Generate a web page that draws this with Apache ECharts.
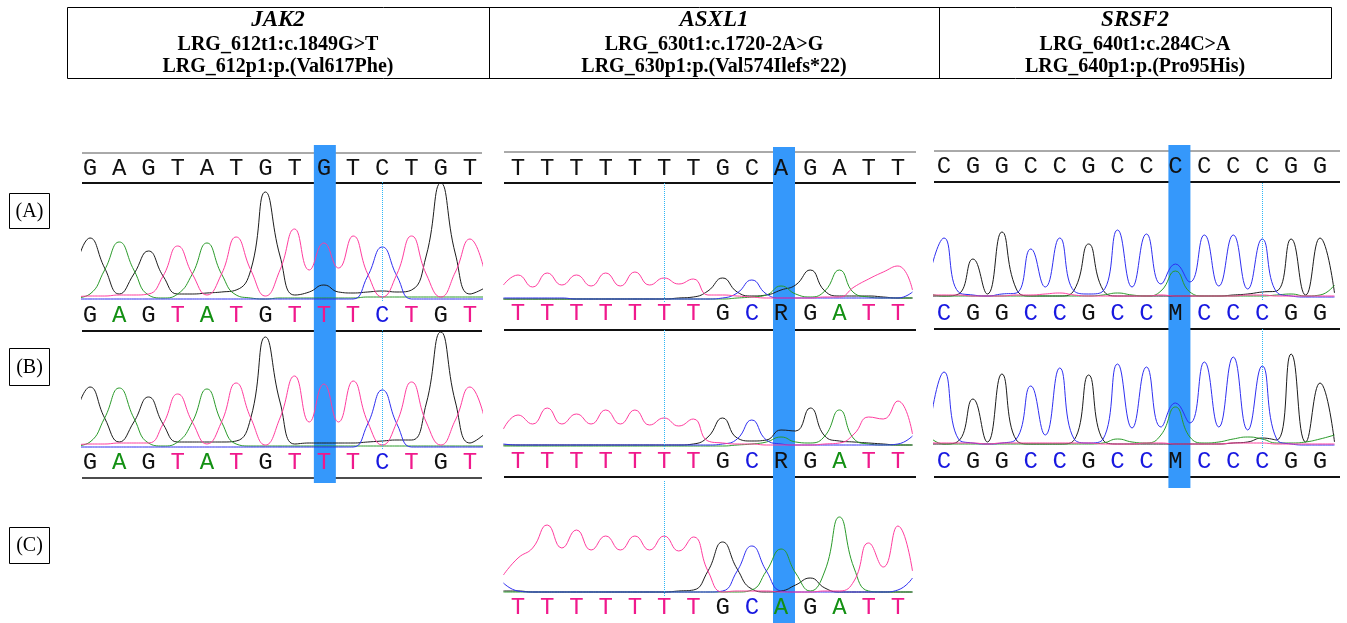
<!DOCTYPE html>
<html>
<head>
<meta charset="utf-8">
<title>JAK2 / ASXL1 / SRSF2 chromatograms</title>
<script src="https://cdn.jsdelivr.net/npm/echarts@6/dist/echarts.min.js"></script>
<style>
  html, body { margin: 0; padding: 0; background: #fff; }
  #chart { width: 1347px; height: 623px; }
</style>
</head>
<body>
<div id="chart"></div>
<script>
// ---- sequences (reference row + base calls) ----
const jakRef = 'GAGTATGTGTCTGT'.split('')
const jakCalls = 'GAGTATGTTTCTGT'.split('')
const asxRef = 'TTTTTTTGCAGATT'.split('')
const asxCallsAB = 'TTTTTTTGCRGATT'.split('')
const asxCallsC = 'TTTTTTTGCAGATT'.split('')
const srsRef = 'CGGCCGCCCCCCGG'.split('')
const srsCalls = 'CGGCCGCCMCCCGG'.split('')

// variant position (highlight) and dotted marker position, per gene
const mutPos = [9, 10, 9]
const dotPos = [11, 6, 12]

// ---- trace samples: one value every half base, from 0.5 to 14.5 ----
// JAK2 (A)
const jakA_A = [0,4,28,56,28,3,0,4,24,55,24,3,0,-1,0,0,0,0,0,0,1,1,1,1,1,1,1,1,1]
const jakA_C = [-1,-1,-1,-1,-1,-1,-1,-1,-1,-1,-1,-1,-1,-1,-1,-1,-1,-1,-1,-1,22,51,22,-1,-1,-1,-1,-1,-1]
const jakA_G = [28,60,30,4,24,47,22,4,4,5,6,8,28,106,42,3,6,13,6,5,6,7,6,8,42,115,44,4,10]
const jakA_T = [1,2,2,3,3,4,22,52,24,3,24,61,28,2,28,69,28,55,30,62,24,1,24,62,24,1,26,59,26]
// JAK2 (B)
const jakB_A = [0,4,28,58,28,3,0,4,24,57,24,2,0,0,0,0,0,0,0,0,0,0,0,0,0,0,0,0,0]
const jakB_C = [-1,-1,-1,-1,-1,-1,-1,-1,-1,-1,-1,-1,-1,-1,-1,-1,-1,-1,-1,-1,22,56,22,-1,-1,-1,-1,-1,-1]
const jakB_G = [30,59,28,4,24,49,22,4,4,4,4,5,28,109,44,2,3,3,3,3,4,5,6,6,42,114,44,3,12]
const jakB_T = [1,2,2,3,3,3,22,52,24,2,24,63,28,1,28,70,24,62,24,65,24,1,24,64,24,1,26,59,27]
// ASXL1 (A)
const asxA_A = [0,0,0,0,0,0,0,0,0,0,0,0,0,0,0,0,1,2,4,13,5,2,8,29,6,2,1,1,1]
const asxA_C = [1,1,1,1,1,0,0,0,0,0,0,0,0,0,0,1,6,19,5,1,1,1,1,1,1,1,1,1,7]
const asxA_G = [0,0,0,0,0,0,0,0,0,0,0,0,1,2,8,21,7,3,4,9,14,29,8,3,3,3,2,1,1]
const asxA_T = [14,24,12,26,14,24,13,26,13,27,14,21,15,20,4,4,3,2,1,1,1,1,2,2,12,20,27,33,9]
// ASXL1 (B)
const asxB_A = [0,0,0,0,0,0,0,0,0,0,0,0,0,0,0,0,1,2,4,9,4,3,10,36,7,2,1,1,1]
const asxB_C = [2,1,1,1,1,1,1,1,1,1,1,1,1,1,1,2,7,26,6,2,1,1,1,1,1,1,1,2,10]
const asxB_G = [1,1,1,1,1,1,1,1,1,1,1,1,1,2,9,28,8,5,6,16,15,38,10,5,4,3,2,1,1]
const asxB_T = [17,31,22,38,22,32,22,36,22,36,21,28,20,27,5,3,2,2,1,1,1,1,2,3,12,29,27,45,12]
// ASXL1 (C)
const asxC_A = [1,1,1,1,1,1,1,1,1,1,1,1,1,1,1,1,1,3,22,44,20,2,22,76,25,2,1,1,1]
const asxC_C = [10,2,1,1,1,1,1,1,1,1,1,1,1,1,1,2,22,47,22,2,1,1,1,1,1,1,1,3,15]
const asxC_G = [2,2,1,1,1,1,1,1,1,1,1,1,2,3,22,51,24,4,1,2,8,15,5,1,1,1,1,1,1]
const asxC_T = [18,35,45,68,45,63,43,57,43,57,43,57,42,56,22,1,2,2,2,1,1,1,2,2,12,50,26,67,22]
// SRSF2 (A)
const srsA_A = [3,1,1,1,1,1,1,1,1,1,1,1,2,4,2,1,6,26,5,1,1,1,1,1,2,3,1,2,12]
const srsA_C = [22,59,5,2,1,3,4,48,10,59,6,3,6,67,10,63,13,33,15,62,11,62,8,58,5,1,0,0,0]
const srsA_G = [1,1,3,38,3,65,8,1,1,1,7,53,7,1,1,1,1,1,1,1,1,2,3,5,6,58,2,59,4]
const srsA_T = [2,2,2,1,1,1,2,2,3,4,2,1,1,1,1,1,2,1,1,1,1,1,2,2,1,1,1,1,1]
// SRSF2 (B)
const srsB_A = [8,1,1,1,1,1,1,1,1,1,1,1,2,6,3,2,10,38,8,2,3,6,8,6,2,2,3,6,10]
const srsB_C = [18,73,6,2,1,2,6,59,10,77,6,2,6,81,17,78,18,42,22,83,18,88,15,79,6,1,0,0,0]
const srsB_G = [1,1,4,46,3,71,5,1,1,1,5,70,5,1,1,1,1,1,1,1,1,2,3,7,5,91,3,62,3]
const srsB_T = [2,2,2,2,1,2,2,2,2,2,2,2,1,1,1,2,2,1,1,1,1,2,2,2,1,1,1,1,1]

// ---- styles ----
const traceColors = { A: '#2a9a2a', C: '#2f2ff0', G: '#1c1c1c', T: '#ff3d9e' }
const callColors = { A: '#139013', C: '#1818e0', G: '#111111', T: '#f0198c', R: '#111111', M: '#111111' }
const letterFont = '"Liberation Mono", "Courier New", monospace'
const serifFont = '"Liberation Serif", "DejaVu Serif", serif'
const letterSize = 24

// ---- layout (pixels) ----
const panels = [
    { left: 82, width: 400, min: 0.726, max: 14.41, lettersLeft: 75.4, lettersWidth: 409.2, hlTop: 145, hlBottom: 483, hlShift: 1 },
    { left: 504, width: 412, min: 0.52, max: 14.62, lettersLeft: 503.4, lettersWidth: 409.2, hlTop: 147, hlBottom: 623, hlShift: 3 },
    { left: 934, width: 406, min: 0.654, max: 14.69, lettersLeft: 929.5, lettersWidth: 404.9, hlTop: 145, hlBottom: 488, hlShift: 4 }
]

const chromas = [
    { panel: 0, base: 298, h: 117, tr: { A: jakA_A, C: jakA_C, G: jakA_G, T: jakA_T } },
    { panel: 0, base: 446, h: 117, tr: { A: jakB_A, C: jakB_C, G: jakB_G, T: jakB_T } },
    { panel: 1, base: 299, h: 116, tr: { A: asxA_A, C: asxA_C, G: asxA_G, T: asxA_T } },
    { panel: 1, base: 446, h: 116, tr: { A: asxB_A, C: asxB_C, G: asxB_G, T: asxB_T } },
    { panel: 1, base: 593, h: 113, tr: { A: asxC_A, C: asxC_C, G: asxC_G, T: asxC_T } },
    { panel: 2, base: 297, h: 115, tr: { A: srsA_A, C: srsA_C, G: srsA_G, T: srsA_T } },
    { panel: 2, base: 445, h: 116, tr: { A: srsB_A, C: srsB_C, G: srsB_G, T: srsB_T } }
]

const letterRows = [
    { panel: 0, y: 169, seq: jakRef, plain: true },
    { panel: 0, y: 316, seq: jakCalls },
    { panel: 0, y: 463, seq: jakCalls },
    { panel: 1, y: 169, seq: asxRef, plain: true },
    { panel: 1, y: 314, seq: asxCallsAB },
    { panel: 1, y: 462, seq: asxCallsAB },
    { panel: 1, y: 608, seq: asxCallsC },
    { panel: 2, y: 167, seq: srsRef, plain: true },
    { panel: 2, y: 314, seq: srsCalls },
    { panel: 2, y: 462, seq: srsCalls }
]

// horizontal rules of each panel: [y, width]
const rules = [
    [[153, 1], [183, 2], [331, 2], [478, 1.5]],
    [[152, 1], [183, 2], [330, 2], [477, 2]],
    [[151, 1], [182, 2], [329, 2], [477, 2]]
]

const grids = [], xAxes = [], yAxes = [], series = []

function addGrid(grid, xAxis, yAxis) {
    const i = grids.length
    grids.push(grid)
    xAxes.push(Object.assign({ gridIndex: i }, xAxis))
    yAxes.push(Object.assign({ gridIndex: i }, yAxis))
    return i
}

// highlight column of the variant
panels.forEach((p, k) => {
    const gi = addGrid(
        { left: p.left + p.hlShift, width: p.width, top: p.hlTop, height: p.hlBottom - p.hlTop },
        { type: 'value', min: p.min, max: p.max, show: false },
        { type: 'value', min: 0, max: 1, show: false }
    )
    series.push({
        type: 'bar', xAxisIndex: gi, yAxisIndex: gi, barWidth: 22, z: 1, silent: true,
        itemStyle: { color: '#3598fb' },
        data: [[mutPos[k], 1]]
    })
})

// chromatogram traces
chromas.forEach(c => {
    const p = panels[c.panel]
    const gi = addGrid(
        { left: p.left, width: p.width, top: c.base - c.h, height: c.h + 3 },
        { type: 'value', min: p.min, max: p.max, show: false },
        { type: 'value', min: -3, max: c.h, show: false }
    )
    ;['G', 'A', 'C', 'T'].forEach((b, j) => {
        const s = {
            type: 'line', xAxisIndex: gi, yAxisIndex: gi, smooth: true, showSymbol: false,
            silent: true, z: 3, clip: true,
            lineStyle: { width: 1, color: traceColors[b] },
            data: c.tr[b].map((v, n) => [0.5 + n * 0.5, v])
        }
        if (j === 0) {
            s.markLine = {
                silent: true, symbol: 'none', label: { show: false },
                lineStyle: { type: 'dotted', color: '#2fb6f5', width: 1 },
                data: [{ xAxis: dotPos[c.panel] }]
            }
        }
        series.push(s)
    })
})

// base letters as category axis labels
const rich = {}
Object.keys(callColors).forEach(b => {
    rich[b] = { color: callColors[b], fontFamily: letterFont, fontSize: letterSize }
})
letterRows.forEach(r => {
    const p = panels[r.panel]
    addGrid(
        { left: p.lettersLeft, width: p.lettersWidth, top: r.y, height: 1 },
        {
            type: 'category', data: r.seq, position: 'top', z: 10,
            axisLine: { show: false }, axisTick: { show: false }, splitLine: { show: false },
            axisLabel: {
                interval: 0, margin: 0, verticalAlign: 'middle',
                fontFamily: letterFont, fontSize: letterSize, color: '#111',
                formatter: r.plain ? v => v : v => '{' + v + '|' + v + '}',
                rich: r.plain ? undefined : rich
            }
        },
        { type: 'value', show: false }
    )
})

// decoration: header table, panel rules, row tags
const graphic = []
const tableTop = 7, tableBottom = 78
graphic.push({ type: 'rect', shape: { x: 67.5, y: tableTop + 0.5, width: 1264, height: tableBottom - tableTop },
    style: { fill: 'none', stroke: '#000', lineWidth: 1 } })
;[489.5, 939.5].forEach(x => graphic.push({ type: 'line', shape: { x1: x, y1: tableTop, x2: x, y2: tableBottom },
    style: { stroke: '#000', lineWidth: 1 } }))

const headers = [
    ['JAK2', 'LRG_612t1:c.1849G>T', 'LRG_612p1:p.(Val617Phe)'],
    ['ASXL1', 'LRG_630t1:c.1720-2A>G', 'LRG_630p1:p.(Val574Ilefs*22)'],
    ['SRSF2', 'LRG_640t1:c.284C>A', 'LRG_640p1:p.(Pro95His)']
]
const headerX = [278, 714, 1135]
headers.forEach((h, k) => {
    graphic.push({ type: 'text', style: { text: h[0], x: headerX[k], y: 20, align: 'center', verticalAlign: 'middle',
        textAlign: 'center', textVerticalAlign: 'middle', font: 'italic bold 23px ' + serifFont, fill: '#000' } })
    graphic.push({ type: 'text', style: { text: h[1], x: headerX[k], y: 45, align: 'center', verticalAlign: 'middle',
        textAlign: 'center', textVerticalAlign: 'middle', font: 'bold 20px ' + serifFont, fill: '#000' } })
    graphic.push({ type: 'text', style: { text: h[2], x: headerX[k], y: 67, align: 'center', verticalAlign: 'middle',
        textAlign: 'center', textVerticalAlign: 'middle', font: 'bold 20px ' + serifFont, fill: '#000' } })
})

panels.forEach((p, k) => {
    rules[k].forEach(([y, w]) => graphic.push({ type: 'line', z: 0,
        shape: { x1: p.left, y1: y, x2: p.left + p.width, y2: y },
        style: { stroke: w > 1 ? '#111' : '#555', lineWidth: w } }))
})

const tags = [['(A)', 193, 228], ['(B)', 348, 385], ['(C)', 527, 563]]
tags.forEach(([t, y0, y1]) => {
    graphic.push({ type: 'rect', shape: { x: 9.5, y: y0 + 0.5, width: 40, height: y1 - y0 },
        style: { fill: '#fff', stroke: '#000', lineWidth: 1 } })
    graphic.push({ type: 'text', style: { text: t, x: 29.5, y: (y0 + y1) / 2 + 1, align: 'center', verticalAlign: 'middle',
        textAlign: 'center', textVerticalAlign: 'middle', font: '20px ' + serifFont, fill: '#000' } })
})

const chart = echarts.init(document.getElementById('chart'))
chart.setOption({
    animation: false,
    backgroundColor: '#fff',
    grid: grids,
    xAxis: xAxes,
    yAxis: yAxes,
    series: series,
    graphic: graphic
})
</script>
</body>
</html>
